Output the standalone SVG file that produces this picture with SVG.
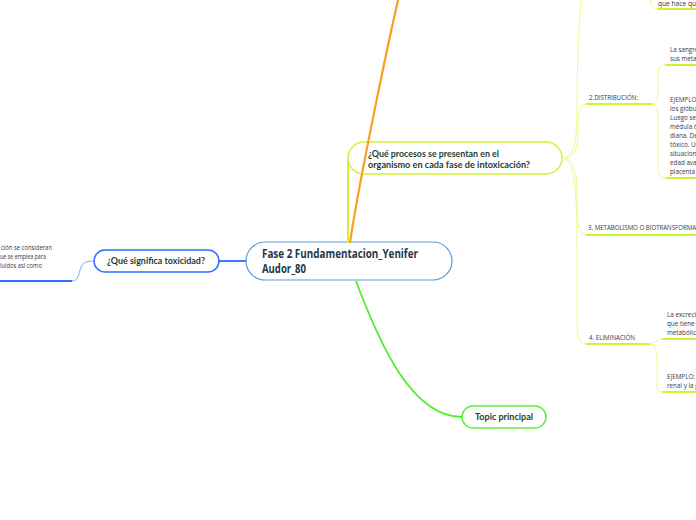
<svg xmlns="http://www.w3.org/2000/svg" width="696" height="520" viewBox="0 0 696 520">
<style>
  .node { fill: #ffffff; }
  .lbl { font-family: Lato, "Open Sans", "Liberation Sans", sans-serif; font-weight: bold; fill: #1e3d30; }
  .main { font-family: "Open Sans", Lato, "Liberation Sans", sans-serif; font-weight: bold; font-size: 11.5px; fill: #22384a; }
  .sm { font-family: "Open Sans", Lato, "Liberation Sans", sans-serif; font-size: 6.3px; fill: #3a3a3a; }
  .thin { fill: none; stroke: #ecfb8c; stroke-width: 1; }
  .ul { fill: none; stroke: #cdf52c; stroke-width: 2; }
</style>
<rect width="696" height="520" fill="#ffffff"/>

<g id="node-central">
  <rect class="node" x="246" y="242" width="206" height="38" rx="19" stroke="#5b9bd5" stroke-width="1.2"/>
  <text class="main" x="262" y="258" textLength="156" lengthAdjust="spacingAndGlyphs">Fase 2 Fundamentacion_Yenifer</text>
  <text class="main" x="262" y="273" textLength="44" lengthAdjust="spacingAndGlyphs">Audor_80</text>
</g>

<g id="node-toxicidad">
  <rect class="node" x="94" y="250" width="125" height="22" rx="11" stroke="#2f6bff" stroke-width="1.5"/>
  <text class="lbl" x="107" y="264" font-size="9.5" textLength="98" lengthAdjust="spacingAndGlyphs">¿Qué significa toxicidad?</text>
</g>

<g id="node-toxicidad-leaf">
  <text class="sm" x="1" y="250" textLength="51" lengthAdjust="spacingAndGlyphs">ción se consideran</text>
  <text class="sm" x="0" y="259" textLength="46" lengthAdjust="spacingAndGlyphs">ue se emplea para</text>
  <text class="sm" x="0" y="268" textLength="42" lengthAdjust="spacingAndGlyphs">luidos así como</text>
</g>

<g id="node-procesos">
  <rect class="node" x="348" y="142" width="214" height="32" rx="16" stroke="#d2f038" stroke-width="1.5"/>
  <text class="lbl" x="368" y="157" font-size="9" textLength="131" lengthAdjust="spacingAndGlyphs">¿Qué procesos se presentan en el</text>
  <text class="lbl" x="368" y="168" font-size="9" textLength="162" lengthAdjust="spacingAndGlyphs">organismo en cada fase de intoxicación?</text>
</g>

<g id="node-topic">
  <rect class="node" x="462" y="406" width="84" height="22" rx="11" stroke="#5ef03a" stroke-width="1.5"/>
  <text class="lbl" x="475" y="420" font-size="9.5" textLength="58" lengthAdjust="spacingAndGlyphs">Topic principal</text>
</g>

<g id="node-1-leaf">
  <text class="sm" x="658" y="6" textLength="38" lengthAdjust="spacingAndGlyphs">que hace qu</text>
</g>

<g id="node-distribucion">
  <text class="sm" x="589" y="99.5" textLength="49" lengthAdjust="spacingAndGlyphs">2.DISTRIBUCIÓN:</text>
</g>
<g id="node-dist-leaf1">
  <text class="sm" x="670" y="51.5">La sangre</text>
  <text class="sm" x="670" y="60.5">sus metal</text>
</g>
<g id="node-dist-leaf2">
  <text class="sm" x="670" y="101.5">EJEMPLO:</text>
  <text class="sm" x="670" y="110.5">los glóbul</text>
  <text class="sm" x="670" y="119.5">Luego se</text>
  <text class="sm" x="670" y="128.5">médula ó</text>
  <text class="sm" x="670" y="137.5">diana. De</text>
  <text class="sm" x="670" y="146.5">tóxico. Un</text>
  <text class="sm" x="670" y="155.5">situacione</text>
  <text class="sm" x="670" y="164.5">edad avan</text>
  <text class="sm" x="670" y="173.5">placenta y</text>
</g>

<g id="node-metabolismo">
  <text class="sm" x="588" y="229.5" textLength="108" lengthAdjust="spacingAndGlyphs">3. METABOLISMO O BIOTRANSFORMA</text>
</g>

<g id="node-eliminacion">
  <text class="sm" x="589" y="339.5" textLength="46" lengthAdjust="spacingAndGlyphs">4. ELIMINACIÓN</text>
</g>
<g id="node-elim-leaf1">
  <text class="sm" x="667" y="316.5">La excreció</text>
  <text class="sm" x="667" y="325.5">que tiene e</text>
  <text class="sm" x="667" y="334.5">metabólico</text>
</g>
<g id="node-elim-leaf2">
  <text class="sm" x="667" y="378.5">EJEMPLO: l</text>
  <text class="sm" x="667" y="387.5">renal y la g</text>
</g>

<g id="connectors" fill="none">
  <!-- central to top (orange) -->
  <path d="M350,243 C356,200 380,80 398,0" stroke="#f9a01b" stroke-width="2.2"/>
  <!-- central to procesos -->
  <path d="M348,243 L348,160" stroke="#d2f038" stroke-width="2"/>
  <!-- central to toxicidad -->
  <path d="M246,261 L219,261" stroke="#2f6bff" stroke-width="1.8"/>
  <!-- toxicidad to leaf -->
  <path d="M94,261 C84,261 82,264 80,270 C78,278 77,281 71,281" stroke="#7ea6ff" stroke-width="1"/>
  <path d="M0,281 L72,281" stroke="#2f6bff" stroke-width="2"/>
  <!-- central to topic -->
  <path d="M356,281 C380,345 412,417 462,417" stroke="#4fef2a" stroke-width="1.8"/>

  <!-- procesos to children -->
  <path class="thin" d="M562,158 C574,158 577,140 577,110 C577,60 579,25 581,0"/>
  <path class="thin" d="M562,158 C574,158 578,150 578,130 C578,110 580,104 588,104"/>
  <path class="thin" d="M562,158 C574,158 577,170 577,200 C577,228 579,235 588,235"/>
  <path class="thin" d="M562,158 C574,158 577,185 577,250 L577,320 C577,338 579,344 588,344"/>

  <!-- underlines -->
  <path class="ul" d="M586,104 L653,104"/>
  <path class="ul" d="M586,235 L696,235"/>
  <path class="ul" d="M586,344 L650,344"/>
  <path class="ul" d="M657,9 L696,9"/>
  <path class="ul" d="M665,65 L696,65"/>
  <path class="ul" d="M665,178 L696,178"/>
  <path class="ul" d="M662,339 L696,339"/>
  <path class="ul" d="M662,392 L696,392"/>

  <!-- 1 leaf connector -->
  <path class="thin" d="M650,0 C651,6 653,9 658,9"/>
  <!-- distribucion to leaves -->
  <path class="thin" d="M652,104 C657,104 658,98 658,88 L658,76 C658,68 660,65 666,65"/>
  <path class="thin" d="M652,104 C657,104 658,110 658,122 L658,168 C658,175 660,178 666,178"/>
  <!-- eliminacion to leaves -->
  <path class="thin" d="M649,344 C655,344 656,339 663,339"/>
  <path class="thin" d="M649,344 C655,344 657,350 657,360 L657,384 C657,390 659,392 663,392"/>
</g>
</svg>
